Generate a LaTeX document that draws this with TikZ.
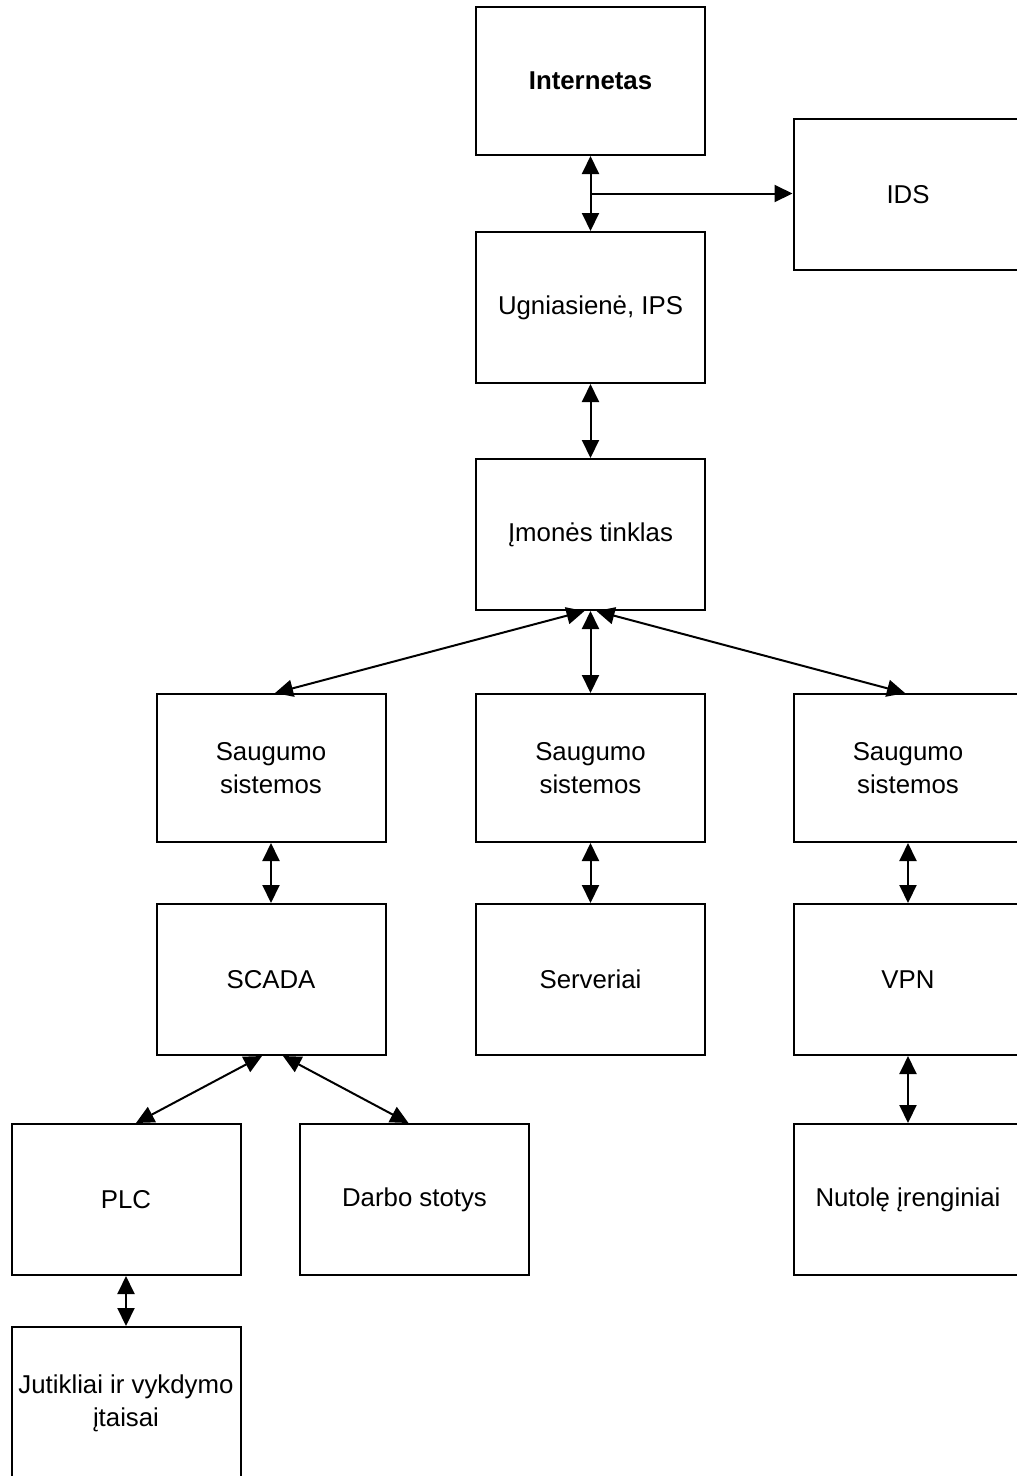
\documentclass[tikz,border=0pt]{standalone}
\usepackage{fontspec}
\setmainfont{Liberation Sans}
\usetikzlibrary{arrows.meta,calc}
\begin{document}
\begin{tikzpicture}[x=1pt,y=-1pt,
  box/.style={draw, line width=2pt, inner sep=0pt, align=center,
    minimum width=229pt, minimum height=151pt,
    font=\fontsize{25.8}{33}\selectfont},
  secbox/.style={box, minimum height=148pt},
  link/.style={line width=2pt,
    {Triangle[length=18pt,width=17pt]}-{Triangle[length=18pt,width=17pt]}},
  feed/.style={line width=2pt, -{Triangle[length=18pt,width=17pt]}}]
\useasboundingbox (0,0) rectangle (1017,1476);

% top chain
\node[box, minimum height=148pt] (inet) at (590.5,81) {\textbf{Internetas}};
\node[box] (ids) at (908,194.5) {IDS};
\node[box] (fw) at (590.5,307.5) {Ugniasienė, IPS};
\node[box] (corp) at (590.5,534.5) {Įmonės tinklas};

% security layer
\node[secbox] (sec1) at (271,768) {Saugumo\\sistemos};
\node[secbox] (sec2) at (590.5,768) {Saugumo\\sistemos};
\node[secbox] (sec3) at (908,768) {Saugumo\\sistemos};

% systems
\node[box] (scada) at (271,979.5) {SCADA};
\node[box] (serv) at (590.5,979.5) {Serveriai};
\node[box] (vpn) at (908,979.5) {VPN};

% field level
\node[box] (plc) at (126,1199.5) {PLC};
\node[box] (ws) at (414.5,1199.5) {Darbo stotys};
\node[box] (remote) at (908,1199.5) {Nutolę įrenginiai};
\node[box, minimum height=153pt] (sens) at (126,1403.5) {Jutikliai ir vykdymo\\įtaisai};

% connectors
\draw[link] (inet.south) -- (fw.north);
\coordinate (br) at ($(inet.south)!0.5!(fw.north)$);
\draw[feed] (br) -- (br -| ids.west);
\draw[link] (fw.south) -- (corp.north);
\draw[link] ([xshift=-6pt]corp.south) -- ([xshift=4pt]sec1.north);
\draw[link] (corp.south) -- (sec2.north);
\draw[link] ([xshift=6pt]corp.south) -- ([xshift=-3pt]sec3.north);
\draw[link] (sec1.south) -- (scada.north);
\draw[link] (sec2.south) -- (serv.north);
\draw[link] (sec3.south) -- (vpn.north);
\draw[link] ([xshift=-9pt]scada.south) -- ([xshift=10pt]plc.north);
\draw[link] ([xshift=12pt]scada.south) -- ([xshift=-6pt]ws.north);
\draw[link] (vpn.south) -- (remote.north);
\draw[link] (plc.south) -- (sens.north);
\end{tikzpicture}
\end{document}
